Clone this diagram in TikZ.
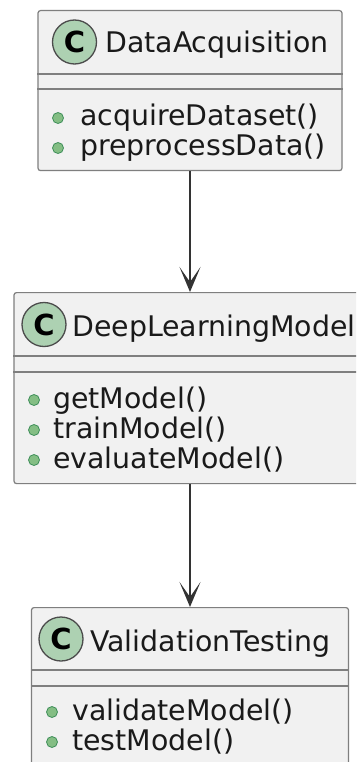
\documentclass[tikz,border=0pt]{standalone}
\usepackage{fontspec}
\setmainfont{DejaVu Sans}
\usetikzlibrary{arrows.meta,calc}
\definecolor{boxfill}{HTML}{F1F1F1}
\definecolor{boxline}{HTML}{7F7F7F}
\definecolor{circfill}{HTML}{ADD1B2}
\definecolor{bulfill}{HTML}{84BE84}
\definecolor{bulline}{HTML}{3F8F5A}
\definecolor{arrowcol}{HTML}{333333}
\definecolor{txt}{HTML}{1A1A1A}
\begin{document}
\begin{tikzpicture}[x=1pt,y=-1pt,
 classbox/.style={draw=boxline, fill=boxfill, line width=1.2pt, rounded corners=2.5pt, inner sep=0pt, anchor=north},
 sepline/.style={draw=boxline, line width=1.2pt},
 cicon/.style={circle, draw=black!70, line width=1.3pt, fill=circfill, minimum size=44pt, inner sep=0pt, font=\fontsize{29}{29}\selectfont\bfseries},
 cname/.style={anchor=base west, inner sep=0pt, font=\fontsize{28.4}{34}\selectfont, text=txt},
 bullet/.style={circle, draw=bulline, fill=bulfill, line width=0.8pt, minimum size=11pt, inner sep=0pt},
 mname/.style={anchor=base west, inner sep=0pt, font=\fontsize{28.4}{34}\selectfont, text=txt},
 assoc/.style={draw=arrowcol, line width=1.5pt, -{Stealth[length=25pt,width=21pt,inset=15pt]}}
]
\clip (0,0) rectangle (356,762);
\fill[white] (0,0) rectangle (356,762);

% DataAcquisition
\node[classbox, minimum width=304pt, minimum height=160pt] (da) at (190,10) {};
\draw[sepline] ($(da.north west)+(0,64)$) -- ($(da.north east)+(0,64)$);
\draw[sepline] ($(da.north west)+(0,79)$) -- ($(da.north east)+(0,79)$);
\node[cicon] (dac) at (74.5,42) {C};
\node[cname] (dan) at (105,53) {DataAcquisition};
\node[bullet] (dab1) at (58,118) {};
\node[mname] (dam1) at (80,126) {acquireDataset()};
\node[bullet] (dab2) at (58,148) {};
\node[mname] (dam2) at (80,156) {preprocessData()};

% DeepLearningModel
\node[classbox, minimum width=352pt, minimum height=191pt] (dl) at (190,292) {};
\draw[sepline] ($(dl.north west)+(0,64)$) -- ($(dl.north east)+(0,64)$);
\draw[sepline] ($(dl.north west)+(0,80)$) -- ($(dl.north east)+(0,80)$);
\node[cicon] (dlc) at (44,324.5) {C};
\node[cname] (dln) at (72,336) {DeepLearningModel};
\node[bullet] (dlb1) at (34,400) {};
\node[mname] (dlm1) at (53,408) {getModel()};
\node[bullet] (dlb2) at (34,430) {};
\node[mname] (dlm2) at (53,438) {trainModel()};
\node[bullet] (dlb3) at (34,460) {};
\node[mname] (dlm3) at (53,468) {evaluateModel()};

% ValidationTesting
\node[classbox, minimum width=317pt, minimum height=160pt] (vt) at (190,607) {};
\draw[sepline] ($(vt.north west)+(0,63)$) -- ($(vt.north east)+(0,63)$);
\draw[sepline] ($(vt.north west)+(0,79)$) -- ($(vt.north east)+(0,79)$);
\node[cicon] (vtc) at (61,639) {C};
\node[cname] (vtn) at (90,651) {ValidationTesting};
\node[bullet] (vtb1) at (52,712) {};
\node[mname] (vtm1) at (72,720) {validateModel()};
\node[bullet] (vtb2) at (52,742) {};
\node[mname] (vtm2) at (72,750) {testModel()};

% connectors
\draw[assoc] (da.south) -- (dl.north);
\draw[assoc] (dl.south) -- (vt.north);
\end{tikzpicture}
\end{document}
